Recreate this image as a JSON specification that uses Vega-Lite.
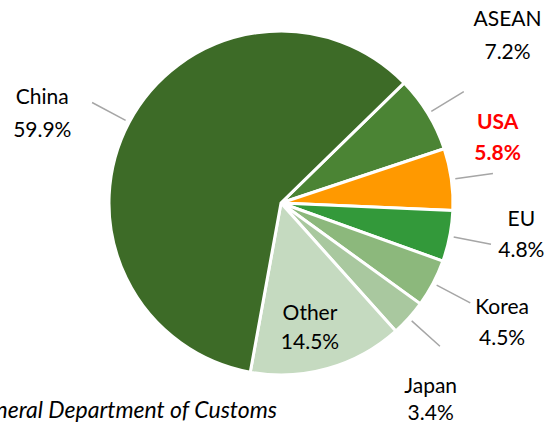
{
  "$schema": "https://vega.github.io/schema/vega-lite/v6.json",
  "width": 562,
  "height": 406,
  "padding": {"left": 0, "top": 0, "right": 0, "bottom": 18},
  "autosize": "none",
  "background": "white",
  "config": {"view": {"stroke": null}, "font": "Lato"},
  "title": {
    "text": "Source: General Department of Customs",
    "orient": "bottom",
    "anchor": "end",
    "frame": "group",
    "dx": -285,
    "offset": -6,
    "baseline": "alphabetic",
    "fontStyle": "italic",
    "fontWeight": "normal",
    "fontSize": 23,
    "font": "Lato",
    "color": "#000000"
  },
  "data": {
    "values": [
      {"region": "ASEAN", "share": 0.072, "rank": 1},
      {"region": "USA", "share": 0.058, "rank": 2},
      {"region": "EU", "share": 0.048, "rank": 3},
      {"region": "Korea", "share": 0.045, "rank": 4},
      {"region": "Japan", "share": 0.034, "rank": 5},
      {"region": "Other", "share": 0.145, "rank": 6},
      {"region": "China", "share": 0.599, "rank": 7}
    ]
  },
  "transform": [
    {"stack": "share", "groupby": [], "sort": [{"field": "rank", "order": "ascending"}], "as": ["s0", "s1"]},
    {"calculate": "(datum.s0 + datum.s1) / 2", "as": "mid"},
    {"calculate": "[datum.region, format(datum.share, '.1%')]", "as": "lbl"}
  ],
  "resolve": {"scale": {"theta": "shared"}},
  "encoding": {
    "theta": {"field": "mid", "type": "quantitative", "scale": {"domain": [0, 1.001], "nice": false, "range": [0.798, 7.0812]}}
  },
  "layer": [
    {
      "mark": {"type": "arc", "stroke": "white", "strokeWidth": 3},
      "encoding": {
        "theta": {"field": "s0", "type": "quantitative"},
        "theta2": {"field": "s1"},
        "radius": {"value": 172},
        "color": {
          "field": "region",
          "type": "nominal",
          "legend": null,
          "scale": {
            "domain": ["ASEAN", "USA", "EU", "Korea", "Japan", "Other", "China"],
            "range": ["#4b8434", "#ff9900", "#33993a", "#8cb87c", "#a9c89f", "#c5dac0", "#3d6b27"]
          }
        }
      }
    },
    {
      "transform": [{"filter": "datum.region !== 'Other'"}],
      "mark": {"type": "arc", "stroke": "#a6a6a6", "strokeWidth": 1.5, "fillOpacity": 0},
      "encoding": {
        "theta2": {"field": "mid"},
        "radius": {"value": 214},
        "radius2": {"value": 176}
      }
    },
    {
      "transform": [{"filter": "datum.region === 'China'"}],
      "mark": {"type": "text", "fontSize": 21, "lineHeight": 33, "baseline": "middle", "align": "center", "color": "#000000", "dx": -18, "dy": 12},
      "encoding": {"radius": {"value": 250}, "text": {"field": "lbl"}}
    },
    {
      "transform": [{"filter": "datum.region === 'ASEAN'"}],
      "mark": {"type": "text", "fontSize": 21, "lineHeight": 33, "baseline": "middle", "align": "center", "color": "#000000", "dx": 13, "dy": -53},
      "encoding": {"radius": {"value": 250}, "text": {"field": "lbl"}}
    },
    {
      "transform": [{"filter": "datum.region === 'USA'"}],
      "mark": {"type": "text", "fontSize": 21, "lineHeight": 31, "fontWeight": "bold", "baseline": "middle", "align": "center", "color": "#ff0000", "dx": -31, "dy": -45},
      "encoding": {"radius": {"value": 250}, "text": {"field": "lbl"}}
    },
    {
      "transform": [{"filter": "datum.region === 'EU'"}],
      "mark": {"type": "text", "fontSize": 21, "lineHeight": 31, "baseline": "middle", "align": "center", "color": "#000000", "dx": -5, "dy": -31},
      "encoding": {"radius": {"value": 250}, "text": {"field": "lbl"}}
    },
    {
      "transform": [{"filter": "datum.region === 'Korea'"}],
      "mark": {"type": "text", "fontSize": 21, "lineHeight": 31, "baseline": "middle", "align": "center", "color": "#000000", "dy": -12},
      "encoding": {"radius": {"value": 250}, "text": {"field": "lbl"}}
    },
    {
      "transform": [{"filter": "datum.region === 'Japan'"}],
      "mark": {"type": "text", "fontSize": 21, "lineHeight": 27, "baseline": "middle", "align": "center", "color": "#000000", "dx": -36, "dy": 17},
      "encoding": {"radius": {"value": 250}, "text": {"field": "lbl"}}
    },
    {
      "transform": [{"filter": "datum.region === 'Other'"}],
      "mark": {"type": "text", "fontSize": 21, "lineHeight": 29, "baseline": "middle", "align": "center", "color": "#000000", "dx": -5, "dy": -9},
      "encoding": {"radius": {"value": 125}, "text": {"field": "lbl"}}
    }
  ]
}
